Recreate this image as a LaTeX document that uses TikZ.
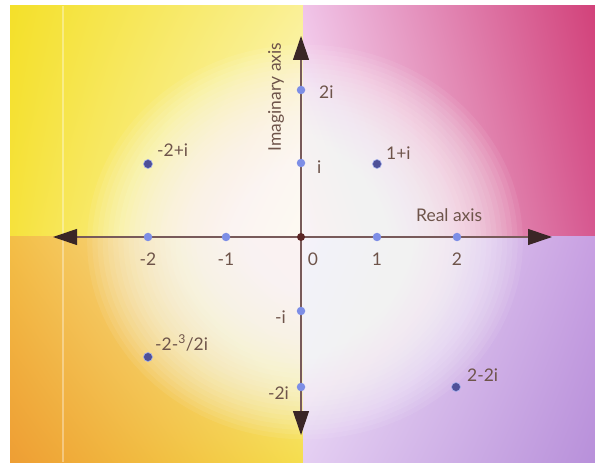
\documentclass[tikz,border=0pt]{standalone}
\usepackage{fontspec}
\setmainfont{Lato}
\usetikzlibrary{arrows.meta,shadings}
\definecolor{textc}{RGB}{110,84,74}
\definecolor{axisc}{RGB}{120,90,90}
\definecolor{tipc}{RGB}{58,38,38}
\definecolor{adotc}{RGB}{125,142,230}
\definecolor{pdotc}{RGB}{78,80,152}
\definecolor{odotc}{RGB}{92,38,38}
\definecolor{tlUL}{RGB}{244,224,42}
\definecolor{tlUR}{RGB}{250,240,150}
\definecolor{tlLL}{RGB}{246,226,60}
\definecolor{tlLR}{RGB}{253,250,225}
\definecolor{trUL}{RGB}{240,196,232}
\definecolor{trUR}{RGB}{210,66,122}
\definecolor{trLL}{RGB}{250,236,248}
\definecolor{trLR}{RGB}{214,88,144}
\definecolor{blUL}{RGB}{243,190,70}
\definecolor{blUR}{RGB}{251,243,192}
\definecolor{blLL}{RGB}{238,158,52}
\definecolor{blLR}{RGB}{245,222,78}
\definecolor{brUL}{RGB}{246,238,250}
\definecolor{brUR}{RGB}{200,160,226}
\definecolor{brLL}{RGB}{228,206,242}
\definecolor{brLR}{RGB}{184,144,218}
\tikzset{
  lab/.style={text=textc, font=\fontsize{17.5}{20}\selectfont, inner sep=0pt},
  adot/.style={circle, fill=adotc, minimum size=8.5bp, inner sep=0pt},
  pdot/.style={circle, fill=pdotc, draw=adotc!70, line width=0.6bp, minimum size=9bp, inner sep=0pt},
  odot/.style={circle, fill=odotc, minimum size=8bp, inner sep=0pt},
  glowring/.style={fill=white, fill opacity=0.075},
  axisline/.style={draw=axisc, line width=1.1bp,
    {Triangle[length=24bp,width=16bp,color=tipc]}-{Triangle[length=24bp,width=16bp,color=tipc]}}
}
\begin{document}
\begin{tikzpicture}[x=1bp,y=-1bp]
\useasboundingbox (0,0) rectangle (595,463);
\fill[white] (0,0) rectangle (595,463);
% quadrants
\shade[upper left=tlUL, upper right=tlUR, lower left=tlLL, lower right=tlLR] (10,6) rectangle (303,237);
\shade[upper left=trUL, upper right=trUR, lower left=trLL, lower right=trLR] (303,6) rectangle (595,237);
\shade[upper left=blUL, upper right=blUR, lower left=blLL, lower right=blLR] (10,237) rectangle (303,462);
\shade[upper left=brUL, upper right=brUR, lower left=brLL, lower right=brLR] (303,237) rectangle (595,462);
% faint scan line
\draw[white, opacity=0.35, line width=1.2bp] (63,6) -- (63,462);
% white glow
\begin{scope}
\clip (10,6) rectangle (595,462);
\foreach \k in {0,...,39}{
  \fill[glowring] (305,242) ellipse [x radius={15+\k*5.2}, y radius={14+\k*4.7}];
}
\end{scope}
% axes
\coordinate (xl) at (53,237);
\coordinate (xr) at (552,237);
\coordinate (yt) at (301,36);
\coordinate (yb) at (301,435);
\draw[axisline] (xl) -- (xr);
\draw[axisline] (yb) -- (yt);
% axis dots
\node[odot] (o) at (301,237) {};
\node[adot] (r1) at (377,237) {};
\node[adot] (r2) at (457,237) {};
\node[adot] (rm1) at (226,237) {};
\node[adot] (rm2) at (148,237) {};
\node[adot] (i1) at (301,163) {};
\node[adot] (i2) at (301,90) {};
\node[adot] (im1) at (301,311) {};
\node[adot] (im2) at (301,387) {};
% points
\node[pdot] (pa) at (148,164) {};
\node[pdot] (pb) at (377,164) {};
\node[pdot] (pc) at (148,357) {};
\node[pdot] (pd) at (456,387) {};
% labels
\node[lab, anchor=west] (l2i) at (319,92) {2i};
\node[lab, anchor=west] (li) at (317,167) {i};
\node[lab, anchor=west] (lpb) at (386,153) {1+i};
\node[lab, anchor=west] (lpa) at (157,150) {-2+i};
\node[lab, anchor=west] (lreal) at (416,215) {Real axis};
\node[lab, rotate=90] (limag) at (276,97) {Imaginary axis};
\node[lab] (lm2) at (148,259) {-2};
\node[lab] (lm1) at (226,259) {-1};
\node[lab] (l0) at (313,259) {0};
\node[lab] (l1) at (377,259) {1};
\node[lab] (l2) at (457,259) {2};
\node[lab, anchor=east] (lmi) at (286,317) {-i};
\node[lab, anchor=east] (lm2i) at (289,393) {-2i};
\node[lab, anchor=west] (lpc) at (155,343) {-2-\textsuperscript{3}/2i};
\node[lab, anchor=west] (lpd) at (467,375) {2-2i};
\end{tikzpicture}
\end{document}
